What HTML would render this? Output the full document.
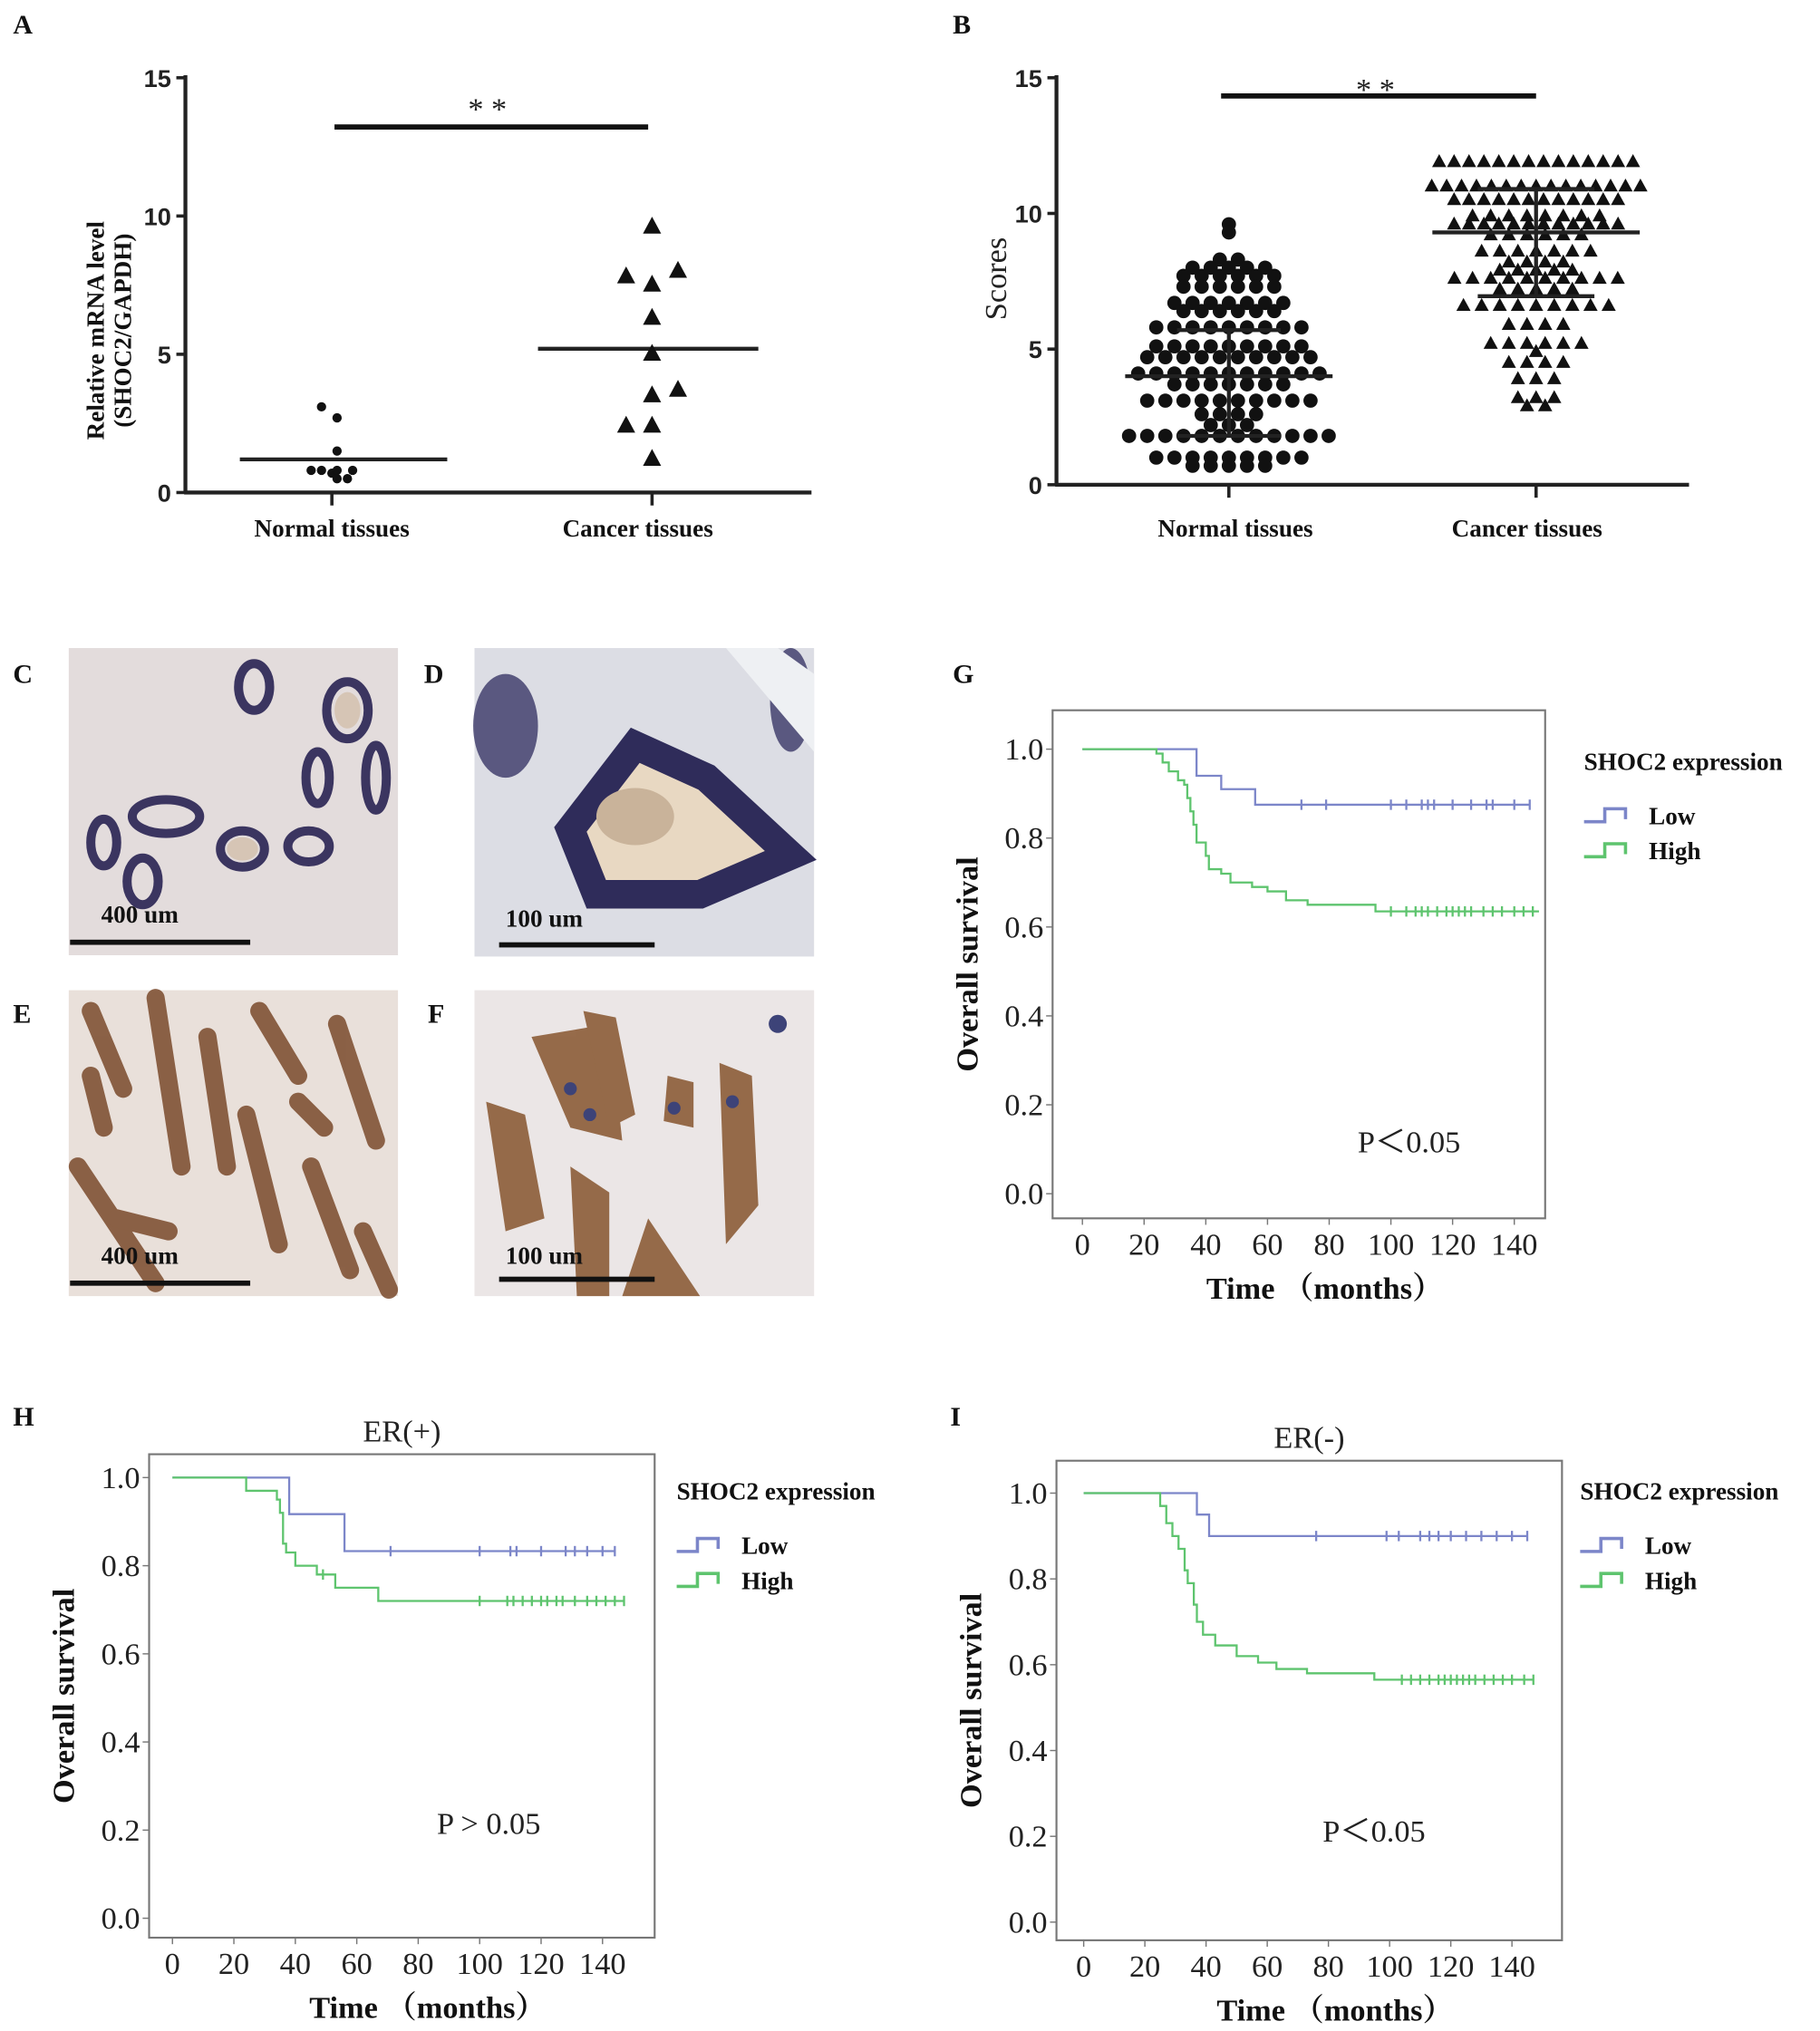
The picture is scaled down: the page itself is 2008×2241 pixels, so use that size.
<!DOCTYPE html>
<html><head><meta charset="utf-8"><style>
html,body{margin:0;padding:0;background:#fff;}
svg{display:block;}
.pl{font-family:"Liberation Serif",serif;font-weight:bold;font-size:21px;fill:#111;}
.tk{font-family:"Liberation Sans",sans-serif;font-weight:bold;font-size:19px;fill:#222;}
.cat{font-family:"Liberation Serif",serif;font-weight:bold;font-size:19px;fill:#111;}
.km{font-family:"Liberation Serif",serif;font-size:24px;fill:#222;}
.kmt{font-family:"Liberation Serif","Noto Serif CJK SC",serif;font-weight:bold;font-size:24px;fill:#111;}
.leg{font-family:"Liberation Serif",serif;font-weight:bold;font-size:19px;fill:#111;}
</style></head><body>
<svg id="fig" width="2008" height="2241" viewBox="0 0 1404 1567" xmlns="http://www.w3.org/2000/svg">
<rect width="1404" height="1567" fill="#fff"/>
<g id="histo">
  <g>
    <rect x="53" y="500" width="254" height="237" fill="#e3dcdc"/>
    <g fill="none" stroke="#3b3560" stroke-width="7">
      <ellipse cx="196" cy="530" rx="12" ry="18"/><ellipse cx="268" cy="548" rx="16" ry="22"/>
      <ellipse cx="245" cy="600" rx="9" ry="20"/><ellipse cx="128" cy="630" rx="26" ry="13"/>
      <ellipse cx="187" cy="655" rx="17" ry="14"/><ellipse cx="80" cy="650" rx="10" ry="18"/>
      <ellipse cx="110" cy="680" rx="12" ry="18"/><ellipse cx="238" cy="653" rx="16" ry="12"/>
      <ellipse cx="290" cy="600" rx="8" ry="25"/>
    </g>
    <g fill="#d6c5b5"><ellipse cx="187" cy="655" rx="12" ry="9"/><ellipse cx="268" cy="548" rx="10" ry="14"/></g>
  </g>
  <g>
    <rect x="366" y="500" width="262" height="238" fill="#dcdde4"/>
    <path d="M440 640 L490 575 L545 600 L610 660 L540 690 L460 690 Z" fill="#e8d8c2" stroke="#2f2c5a" stroke-width="22"/>
    <ellipse cx="490" cy="630" rx="30" ry="22" fill="#c9b39a"/>
    <ellipse cx="390" cy="560" rx="25" ry="40" fill="#3a3766" opacity="0.8"/>
    <ellipse cx="610" cy="540" rx="16" ry="40" fill="#3a3766" opacity="0.8"/>
    <path d="M560 500 L628 580 L628 520 L600 500 Z" fill="#eef0f3"/>
  </g>
  <g>
    <rect x="53" y="764" width="254" height="236" fill="#e9e0da"/>
    <g stroke="#7a4a2c" stroke-width="14" stroke-linecap="round" fill="none" opacity="0.85">
      <path d="M70 780 L95 840"/><path d="M120 770 L140 900"/><path d="M160 800 L175 900"/>
      <path d="M200 780 L230 830"/><path d="M260 790 L290 880"/><path d="M60 900 L120 990"/>
      <path d="M190 860 L215 960"/><path d="M240 900 L270 980"/><path d="M90 940 L130 950"/>
      <path d="M280 950 L300 995"/><path d="M70 830 L80 870"/><path d="M230 850 L250 870"/>
    </g>
  </g>
  <g>
    <rect x="366" y="764" width="262" height="236" fill="#ebe6e6"/>
    <g fill="#8a5a34" opacity="0.88">
      <path d="M410 800 L470 790 L480 880 L440 870 Z"/>
      <path d="M450 780 L475 785 L490 860 L470 870 Z"/>
      <path d="M375 850 L405 860 L420 940 L390 950 Z"/>
      <path d="M500 940 L540 1000 L480 1000 Z"/>
      <path d="M440 900 L470 920 L470 1000 L445 1000 Z"/>
      <path d="M555 820 L580 830 L585 930 L560 960 Z"/>
      <path d="M515 830 L535 835 L535 870 L512 865 Z"/>
    </g>
    <g fill="#3d4378"><circle cx="440" cy="840" r="5"/><circle cx="455" cy="860" r="5"/><circle cx="565" cy="850" r="5"/><circle cx="600" cy="790" r="7"/><circle cx="520" cy="855" r="5"/></g>
  </g>
  <g fill="#111">
    <rect x="54" y="725" width="139" height="4"/><rect x="385" y="727" width="120" height="4"/>
    <rect x="54" y="988" width="139" height="4"/><rect x="385" y="985" width="120" height="4"/>
  </g>
  <text class="cat" x="78" y="712">400 um</text>
  <text class="cat" x="390" y="715">100 um</text>
  <text class="cat" x="78" y="975">400 um</text>
  <text class="cat" x="390" y="975">100 um</text>
</g>
<g>
<text class="pl" x="10" y="26">A</text><text class="pl" x="735" y="26">B</text>
<text class="pl" x="10" y="527">C</text><text class="pl" x="327" y="527">D</text>
<text class="pl" x="10" y="789">E</text><text class="pl" x="330" y="789">F</text>
<text class="pl" x="735" y="527">G</text><text class="pl" x="10" y="1100">H</text><text class="pl" x="733" y="1100">I</text>
</g>
<g id="charts"></g>
</svg>
<script>
// ---- Panel A data ----
const aNormal = [3.1, 2.7, 1.5, 0.8, 0.8, 0.7, 0.8, 0.5, 0.5, 0.8];
const aNormalDx = [-8, 4, 4, -16, -8, 0, 4, 4, 12, 16];
const aCancer = [9.6, 7.8, 8.0, 7.5, 6.3, 5.0, 3.5, 3.7, 2.4, 2.4, 1.2];
const aCancerDx = [0, -20, 20, 0, 0, 0, 0, 20, -20, 0, 0];
const aMeans = [1.2, 5.2];
const aTicks = [0, 5, 10, 15];
// ---- Panel B data ----
const bNormalLevels = [9.6,9.3,8.3,8.0,7.7,7.3,6.7,6.4,5.8,5.1,4.7,4.1,3.7,3.1,2.6,2.2,1.8,1.0,0.7];
const bNormalCounts = [1,1,2,5,6,6,7,6,9,9,10,11,7,10,4,3,12,9,5];
const bCancerLevels = [11.9,11.0,10.5,9.9,9.6,9.2,8.6,8.2,7.9,7.6,7.2,6.6,5.9,5.2,4.9,4.5,3.9,3.2,2.9];
const bCancerCounts = [14,15,12,8,12,6,7,4,5,10,5,9,4,6,1,4,3,3,2];
const bMeans = [4.0, 9.3];
const bSDlo = [1.8, 6.95];
const bSDhi = [5.7, 10.9];
const bTicks = [0, 5, 10, 15];
// ---- KM data ----
const gLowT = [0,37,45,56,145]; const gLowS = [1.0,0.94,0.91,0.875,0.875];
const gLowC = [71,79,100,105,110,112,114,120,126,131,133,140,145];
const gHighT = [0,24,26,28,31,33,34,35,36,37,40,41,45,48,55,60,66,73,95,148];
const gHighS = [1.0,0.99,0.97,0.95,0.93,0.92,0.89,0.86,0.83,0.79,0.76,0.73,0.72,0.70,0.69,0.68,0.66,0.65,0.635,0.635];
const gHighC = [100,105,108,110,112,115,118,120,122,124,126,130,133,136,140,143,146];
const hLowT = [0,38,56,144]; const hLowS = [1.0,0.917,0.833,0.833];
const hLowC = [71,100,110,112,120,128,131,135,140,144];
const hHighT = [0,24,34,35,36,37,40,47,53,67,147];
const hHighS = [1.0,0.97,0.95,0.92,0.85,0.83,0.80,0.78,0.75,0.72,0.72];
const hHighC = [49,100,109,111,114,117,120,122,125,127,131,135,138,141,144,147];
const iLowT = [0,37,41,145]; const iLowS = [1.0,0.95,0.90,0.90];
const iLowC = [76,99,103,110,113,116,120,125,130,135,140,145];
const iHighT = [0,25,27,29,31,33,34,36,37,39,43,50,57,63,73,95,147];
const iHighS = [1.0,0.97,0.93,0.90,0.87,0.82,0.79,0.74,0.70,0.67,0.645,0.62,0.605,0.59,0.58,0.565,0.565];
const iHighC = [104,107,110,113,116,118,120,122,124,126,128,131,134,137,140,144,147];
const kmXTicks = [0,20,40,60,80,100,120,140];
const kmYTicks = [0,0.2,0.4,0.6,0.8,1.0];

const NS='http://www.w3.org/2000/svg';
const root=document.getElementById('charts');
function mk(tag,attrs,parent,text){const e=document.createElementNS(NS,tag);for(const k in attrs)e.setAttribute(k,attrs[k]);if(text!==undefined)e.textContent=text;(parent||root).appendChild(e);return e;}

// ---------- Panel A ----------
(function(){
  const g=mk('g',{});  
  const y=v=>380-v*(320/15); const cx=[256,503];
  mk('line',{x1:143,y1:58,x2:143,y2:381,stroke:'#222','stroke-width':3},g);
  mk('line',{x1:142,y1:380,x2:626,y2:380,stroke:'#222','stroke-width':3},g);
  aTicks.forEach(t=>{mk('line',{x1:136,y1:y(t),x2:143,y2:y(t),stroke:'#222','stroke-width':2.5},g);
    const tx=mk('text',{x:132,y:y(t)+7,'text-anchor':'end',class:'tk'},g,String(t));
     });
  cx.forEach(c=>mk('line',{x1:c,y1:380,x2:c,y2:390,stroke:'#222','stroke-width':2.5},g));
  const yt=mk('text',{transform:'translate(80,255) rotate(-90)','text-anchor':'middle',class:'cat'},g,'Relative mRNA level');
   
  mk('text',{transform:'translate(101,255) rotate(-90)','text-anchor':'middle',class:'cat'},g,'(SHOC2/GAPDH)');
  mk('text',{x:256,y:414,'text-anchor':'middle',class:'cat'},g,'Normal tissues');
  mk('text',{x:492,y:414,'text-anchor':'middle',class:'cat'},g,'Cancer tissues');
  mk('line',{x1:258,y1:98,x2:500,y2:98,stroke:'#111','stroke-width':4},g);
  mk('text',{x:376,y:92,'text-anchor':'middle',class:'km','font-size':'30'},g,'* *');
  mk('line',{x1:185,y1:y(aMeans[0]),x2:345,y2:y(aMeans[0]),stroke:'#222','stroke-width':3},g);
  mk('line',{x1:415,y1:y(aMeans[1]),x2:585,y2:y(aMeans[1]),stroke:'#222','stroke-width':3},g);
  aNormal.forEach((v,i)=>{const c=mk('circle',{cx:cx[0]+aNormalDx[i],cy:y(v),r:3.6,fill:'#111'},g);
     });
  aCancer.forEach((v,i)=>{const X=cx[1]+aCancerDx[i],Y=y(v);
    const p=mk('path',{d:`M${X} ${Y-8}L${X+7} ${Y+5}L${X-7} ${Y+5}Z`,fill:'#111'},g);
     });
})();

// ---------- Panel B ----------
(function(){
  const g=mk('g',{});  
  const y=v=>374-v*(314/15); const cx=[948,1185];
  mk('line',{x1:815,y1:58,x2:815,y2:375,stroke:'#222','stroke-width':3},g);
  mk('line',{x1:814,y1:374,x2:1303,y2:374,stroke:'#222','stroke-width':3},g);
  bTicks.forEach(t=>{mk('line',{x1:808,y1:y(t),x2:815,y2:y(t),stroke:'#222','stroke-width':2.5},g);
    const tx=mk('text',{x:804,y:y(t)+7,'text-anchor':'end',class:'tk'},g,String(t));
     });
  cx.forEach(c=>mk('line',{x1:c,y1:374,x2:c,y2:384,stroke:'#222','stroke-width':2.5},g));
  const yt=mk('text',{transform:'translate(776,215) rotate(-90)','text-anchor':'middle',class:'km','font-size':'23'},g,'Scores');
   
  mk('text',{x:953,y:414,'text-anchor':'middle',class:'cat'},g,'Normal tissues');
  mk('text',{x:1178,y:414,'text-anchor':'middle',class:'cat'},g,'Cancer tissues');
  mk('line',{x1:942,y1:74,x2:1185,y2:74,stroke:'#111','stroke-width':4},g);
  mk('text',{x:1061,y:77,'text-anchor':'middle',class:'km','font-size':'30'},g,'* *');
  bNormalLevels.forEach((v,i)=>{const n=bNormalCounts[i];for(let k=0;k<n;k++){
    const X=cx[0]+(k-(n-1)/2)*14;const c=mk('circle',{cx:X,cy:y(v),r:5.5,fill:'#111'},g);
     }});
  bCancerLevels.forEach((v,i)=>{const n=bCancerCounts[i];const sp=n>11?11.5:14;for(let k=0;k<n;k++){
    const X=cx[1]+(k-(n-1)/2)*sp,Y=y(v);
    const p=mk('path',{d:`M${X} ${Y-6}L${X+5.5} ${Y+4}L${X-5.5} ${Y+4}Z`,fill:'#111'},g);
     }});
  [0,1].forEach(i=>{const c=cx[i];const cw=i?45:40;
    mk('line',{x1:c-80,y1:y(bMeans[i]),x2:c+80,y2:y(bMeans[i]),stroke:'#222','stroke-width':3},g);
    mk('line',{x1:c,y1:y(bSDlo[i]),x2:c,y2:y(bSDhi[i]),stroke:'#222','stroke-width':3},g);
    mk('line',{x1:c-cw,y1:y(bSDlo[i]),x2:c+cw,y2:y(bSDlo[i]),stroke:'#222','stroke-width':3},g);
    mk('line',{x1:c-cw,y1:y(bSDhi[i]),x2:c+cw,y2:y(bSDhi[i]),stroke:'#222','stroke-width':3},g);});
})();

// ---------- KM ----------
function km(o){
  const g=mk('g',{});  
  const x=t=>o.x0+t*o.xs; const y=s=>o.y0-s*o.ys;
  mk('rect',{x:o.bx,y:o.by,width:o.bw,height:o.bh,fill:'none',stroke:'#777','stroke-width':1.5},g);
  kmXTicks.forEach(t=>{mk('line',{x1:x(t),y1:o.by+o.bh,x2:x(t),y2:o.by+o.bh+5,stroke:'#777'},g);
    const tx=mk('text',{x:x(t),y:o.by+o.bh+28,'text-anchor':'middle',class:'km'},g,String(t));
     });
  kmYTicks.forEach(t=>{mk('line',{x1:o.bx-5,y1:y(t),x2:o.bx,y2:y(t),stroke:'#777'},g);
    const tx=mk('text',{x:o.bx-7,y:y(t)+8,'text-anchor':'end',class:'km'},g,t.toFixed(1));
     });
  const xt=mk('text',{x:o.bx+o.bw/2+20,y:o.by+o.bh+62,'text-anchor':'middle',class:'kmt'},g,'Time （months）');
   
  const yt=mk('text',{transform:`translate(${o.bx-58},${o.by+o.bh/2}) rotate(-90)`,'text-anchor':'middle',class:'kmt'},g,'Overall survival');
   
  if(o.title){const t=mk('text',{x:o.bx+o.bw/2,y:o.by-10,'text-anchor':'middle',class:'km'},g,o.title);
     }
  const pv=mk('text',{x:o.px,y:o.py,'text-anchor':'middle',class:'km','font-size':'25'},g,o.p);
   
  function curve(T,S,C,col,nm){let d=`M${x(T[0])} ${y(S[0])}`;
    for(let i=1;i<T.length;i++){d+=`H${x(T[i])}V${y(S[i])}`;}
    const p=mk('path',{d:d,fill:'none',stroke:col,'stroke-width':1.6},g);
     
    C.forEach(t=>{let s=S[0];for(let i=0;i<T.length;i++)if(T[i]<=t)s=S[i];
      const c=mk('line',{x1:x(t),y1:y(s)-4,x2:x(t),y2:y(s)+4,stroke:col,'stroke-width':1.6},g);
       });}
  curve(o.lowT,o.lowS,o.lowC,'#7c86c9','low-curve');
  curve(o.highT,o.highS,o.highC,'#5ec46e','high-curve');
  const L=mk('g',{},g);  
  mk('text',{x:o.lx,y:o.ly,class:'leg'},L,'SHOC2 expression');
  [['Low','#7c86c9',36],['High','#5ec46e',63]].forEach(a=>{const yy=o.ly+a[2];
    mk('path',{d:`M${o.lx} ${yy+4}H${o.lx+16}V${yy-6}H${o.lx+32}V${yy+2}`,fill:'none',stroke:a[1],'stroke-width':2.5},L);
    const e=mk('text',{x:o.lx+50,y:yy+6,class:'leg'},L,a[0]);
     });
}
km({name:'panel-g-chart',bx:812,by:548,bw:380,bh:392,x0:835,xs:2.38,y0:921,ys:343,px:1087,py:889,p:'P＜0.05',lx:1222,ly:594,
  lowT:gLowT,lowS:gLowS,lowC:gLowC,highT:gHighT,highS:gHighS,highC:gHighC});
km({name:'panel-h-chart',bx:115,by:1122,bw:390,bh:373,x0:133,xs:2.37,y0:1480,ys:340,px:377,py:1415,p:'P > 0.05',lx:522,ly:1157,title:'ER(+)',
  lowT:hLowT,lowS:hLowS,lowC:hLowC,highT:hHighT,highS:hHighS,highC:hHighC});
km({name:'panel-i-chart',bx:815,by:1127,bw:390,bh:370,x0:836,xs:2.36,y0:1483,ys:331,px:1060,py:1421,p:'P＜0.05',lx:1219,ly:1157,title:'ER(-)',
  lowT:iLowT,lowS:iLowS,lowC:iLowC,highT:iHighT,highS:iHighS,highC:iHighC});
</script>
</body></html>
